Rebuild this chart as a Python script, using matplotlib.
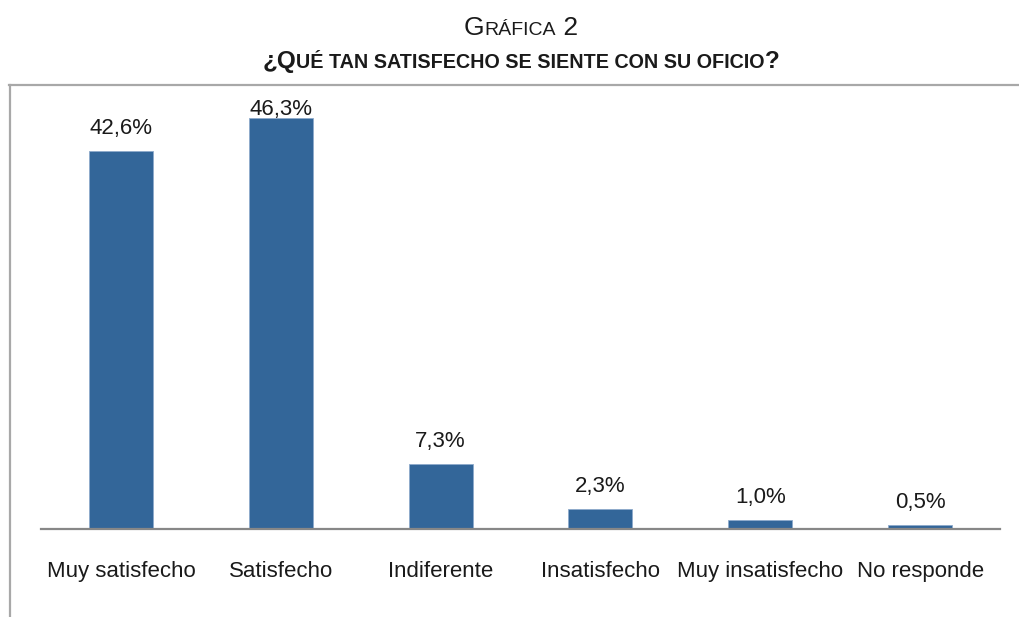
import matplotlib
matplotlib.use("Agg")
import matplotlib.pyplot as plt
from matplotlib.lines import Line2D
from matplotlib import font_manager

categories = ["Muy satisfecho", "Satisfecho", "Indiferente", "Insatisfecho",
              "Muy insatisfecho", "No responde"]
values = [42.6, 46.3, 7.3, 2.3, 1.0, 0.5]
value_labels = ["42,6%", "46,3%", "7,3%", "2,3%", "1,0%", "0,5%"]

names = {f.name for f in font_manager.fontManager.ttflist}
FONT = "Liberation Sans Narrow" if "Liberation Sans Narrow" in names else "Liberation Sans"
plt.rcParams['font.family'] = [FONT, 'DejaVu Sans']

W, H = 1019, 617
fig = plt.figure(figsize=(W / 100, H / 100), dpi=100)
ax = fig.add_axes([41 / W, (H - 529) / H, (1000 - 41) / W, (529 - 85.5) / H])

x = list(range(len(categories)))
ax.bar(x, values, width=0.4, color="#336699", edgecolor="#8eaacb", linewidth=0.6)
ax.set_xlim(-0.5, len(categories) - 0.5)
ax.set_ylim(0, 50)
ax.set_yticks([])
ax.set_xticks(x)
ax.set_xticklabels(categories, fontsize=16, color="#1a1a1a")
ax.tick_params(axis="x", length=0, pad=23)
for s in ["top", "right", "left"]:
    ax.spines[s].set_visible(False)
ax.spines["bottom"].set_color("#878787")
ax.spines["bottom"].set_linewidth(1.6)

px_per_unit = (529 - 85.5) / 50.0
off = 17 / px_per_unit
cap = 46.7
for xi, v, lab in zip(x, values, value_labels):
    y = min(v + off, cap)
    ax.text(xi, y, lab, ha="center", va="baseline", fontsize=16, color="#1a1a1a")

# frame
fc = "#a8a8a8"
fig.add_artist(Line2D([9 / W, 1.0], [1 - 84.5 / H, 1 - 84.5 / H], transform=fig.transFigure,
                      color=fc, linewidth=1.6))
fig.add_artist(Line2D([9.5 / W, 9.5 / W], [0, 1 - 84.5 / H], transform=fig.transFigure,
                      color=fc, linewidth=1.6))

# small-caps titles
renderer = fig.canvas.get_renderer()

def small_caps_line(pieces, center_x, baseline_y, weight):
    arts = []
    for txt, size in pieces:
        t = fig.text(0, 1 - baseline_y / H, txt, fontsize=size, fontweight=weight,
                     va="baseline", ha="left", color="#1a1a1a")
        arts.append(t)
    widths = [a.get_window_extent(renderer).width for a in arts]
    total = sum(widths)
    cur = center_x - total / 2
    for a, w in zip(arts, widths):
        a.set_x(cur / W)
        cur += w

small_caps_line([("G", 19), ("RÁFICA", 14), (" 2", 19)], 521, 35, "normal")
small_caps_line([("¿Q", 17.5), ("UÉ TAN SATISFECHO SE SIENTE CON SU OFICIO", 14.2), ("?", 17.5)],
                521, 68, "bold")

fig.savefig("out.png", dpi=100)
